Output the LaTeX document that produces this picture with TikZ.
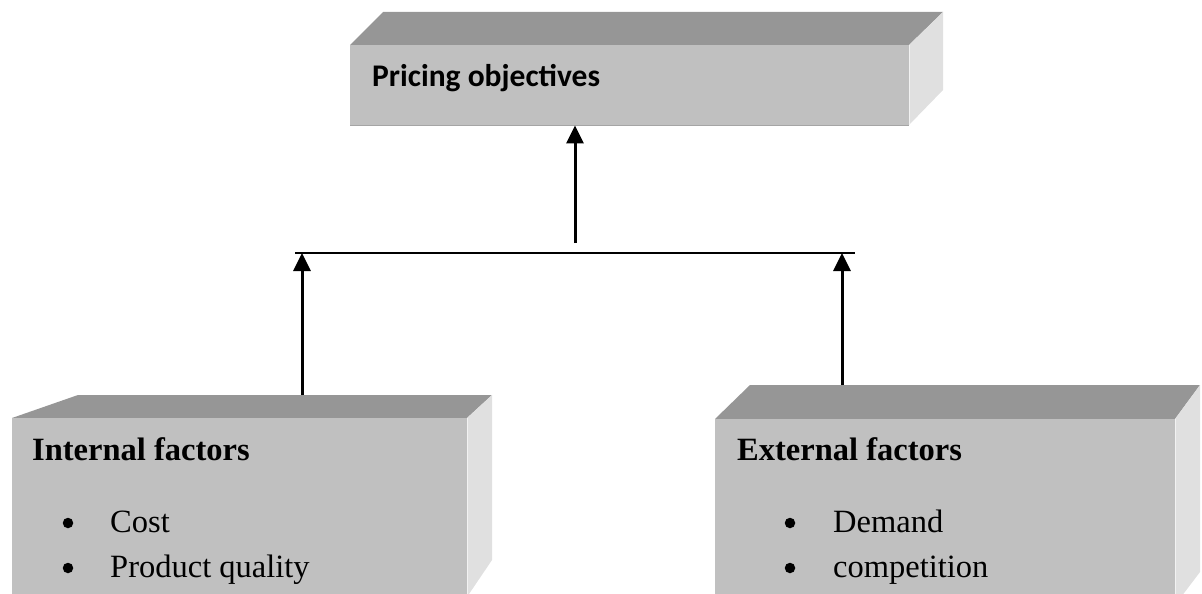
\documentclass[tikz,border=0pt]{standalone}
\usepackage{fontspec}
\setmainfont{Liberation Serif}
\newfontfamily\calib{Carlito}
\usetikzlibrary{arrows.meta}
\definecolor{frontc}{RGB}{192,192,192}
\definecolor{topc}{RGB}{150,150,150}
\definecolor{sidec}{RGB}{224,224,224}
\definecolor{edgec}{RGB}{165,165,165}
\tikzset{
  front/.style={fill=frontc, draw=none, inner sep=0pt, anchor=north west},
  topface/.style={fill=topc, draw=none},
  sideface/.style={fill=sidec, draw=none},
  head/.style={anchor=base west, inner sep=0pt, font=\fontsize{32.5}{38}\selectfont\bfseries},
  item/.style={anchor=base west, inner sep=0pt, font=\fontsize{32.5}{38}\selectfont},
  bul/.style={circle, fill=black, inner sep=0pt, minimum size=10.5pt},
  conn/.style={line width=3pt, -{Triangle[length=18pt,width=17pt]}},
  bar/.style={line width=2.3pt}
}
\begin{document}
\begin{tikzpicture}[x=1pt,y=-1pt]
\path[use as bounding box] (0,0) rectangle (1202,594);
\begin{scope}
\clip (0,0) rectangle (1202,594);
% top box
\fill[topface] (350,45) -- (383,12) -- (943,12) -- (909,45) -- cycle;
\fill[sideface] (909,45) -- (943,12) -- (943,90) -- (909,125) -- cycle;
\node[front, minimum width=559pt, minimum height=80pt] (po) at (350,45) {};
\draw[edgec, line width=1.5pt] (po.south west) -- (po.south east);
\draw[white!90!gray, line width=1pt] (po.north east) -- (po.south east);
\node[anchor=base west, inner sep=0pt, font=\calib\fontsize{31.5}{36}\selectfont\bfseries] (pot) at (372,87) {Pricing objectives};
% left bottom box
\fill[topface] (12,418) -- (78,395) -- (492,395) -- (467,418) -- cycle;
\fill[sideface] (467,418) -- (492,395) -- (492,560) -- (467,597) -- cycle;
\node[front, minimum width=455pt, minimum height=190pt] (inf) at (12,418) {};
\draw[white!90!gray, line width=1pt] (467,418) -- (467,600);
\node[head] (inft) at (32,460) {Internal factors};
\node[bul] (b1) at (68,523) {};
\node[item] (i1) at (110,532) {Cost};
\node[bul] (b2) at (68,568) {};
\node[item] (i2) at (110,577) {Product quality};
% right bottom box
\fill[topface] (715,419) -- (750,385) -- (1200,385) -- (1175,419) -- cycle;
\fill[sideface] (1175,419) -- (1200,385) -- (1200,572) -- (1175,605) -- cycle;
\node[front, minimum width=460pt, minimum height=190pt] (exf) at (715,419) {};
\draw[white!90!gray, line width=1pt] (1175,419) -- (1175,600);
\node[head] (exft) at (737,460) {External factors};
\node[bul] (b3) at (790,523) {};
\node[item] (e1) at (833,532) {Demand};
\node[bul] (b4) at (790,568) {};
\node[item] (e2) at (833,577) {competition};
\end{scope}
% connectors
\coordinate (jl) at (295,253);
\coordinate (jr) at (855,253);
\coordinate (jc) at (575,243);
\coordinate (la) at (302,253);
\coordinate (ra) at (842,253);
\draw[bar] (jl) -- (jr);
\draw[conn] (jc) -- (jc |- po.south);
\draw[conn] (la |- 0,395) -- (la);
\draw[conn] (ra |- 0,385) -- (ra);
\end{tikzpicture}
\end{document}
